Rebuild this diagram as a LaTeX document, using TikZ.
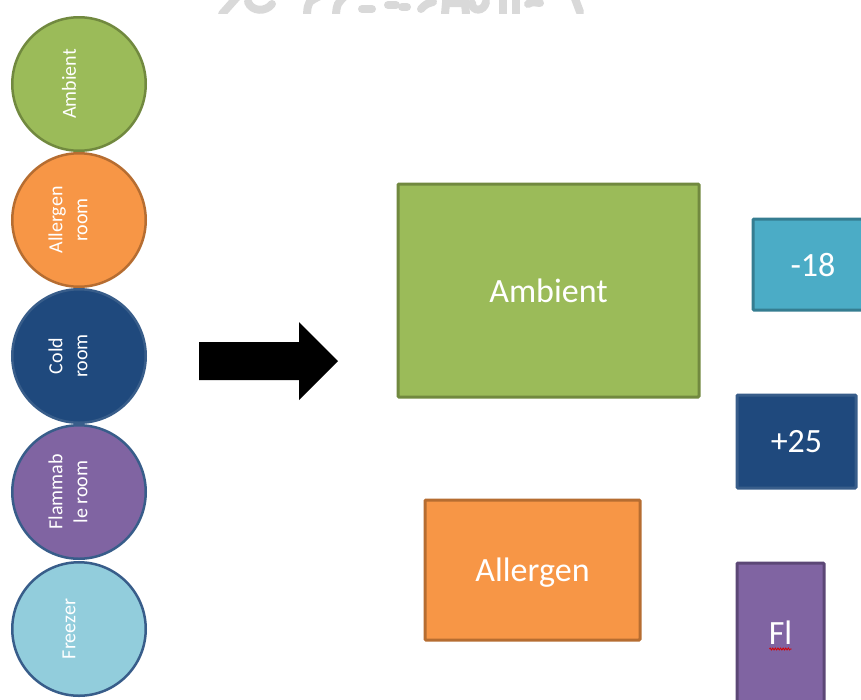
\documentclass[tikz,border=0pt]{standalone}
\usepackage{fontspec}
\setmainfont{Carlito}
\usetikzlibrary{decorations.pathmorphing}

\definecolor{greenfill}{HTML}{9BBB59}
\definecolor{greenline}{HTML}{71893F}
\definecolor{orangefill}{HTML}{F79646}
\definecolor{orangeline}{HTML}{B66D31}
\definecolor{navyfill}{HTML}{1F497D}
\definecolor{navyline}{HTML}{385D8A}
\definecolor{purplefill}{HTML}{8064A2}
\definecolor{purpleline}{HTML}{5C4776}
\definecolor{icefill}{HTML}{92CDDC}
\definecolor{tealfill}{HTML}{4BACC6}
\definecolor{tealline}{HTML}{357D91}
\definecolor{markgray}{HTML}{D9D9D9}

\tikzset{
  room/.style={circle, draw, line width=2.5pt, minimum size=133.5pt, inner sep=0pt},
  roomtext/.style={rotate=90, text=white, align=center, inner sep=0pt,
    font=\fontsize{20}{25}\selectfont},
  zone/.style={rectangle, draw, line width=3pt, rounded corners=1pt, inner sep=0pt,
    text=white, text depth=0pt, font=\fontsize{34}{40}\selectfont},
  markstroke/.style={draw=markgray, line width=8pt, line cap=round}
}

\begin{document}
\begin{tikzpicture}[x=1pt,y=-1pt]
\useasboundingbox (0,0) rectangle (861,699);
\clip (0,0) rectangle (861,699);

% faint lettering along the top edge
\begin{scope}
  \clip (200,0) rectangle (600,13);
  \path[markstroke] (222,14) -- (238,-4);
  \path[markstroke] (248,2) .. controls (252,12) and (266,12) .. (272,4);
  \path[markstroke] (320,-4) .. controls (308,2) .. (307,14);
  \path[markstroke] (345,-4) .. controls (337,4) .. (336,14);
  \path[markstroke] (362,9) -- (372,9);
  \path[markstroke] (388,5) -- (396,5);
  \path[markstroke] (402,7) -- (407,7);
  \path[markstroke] (433,2) .. controls (426,4) .. (421,9);
  \path[markstroke] (445,14) -- (446,3) -- (465,3) -- (466,14);
  \path[markstroke] (472,3) .. controls (472,12) and (484,12) .. (486,2);
  \path[markstroke] (503,-2) -- (503,14);
  \path[markstroke] (516,-2) -- (516,14);
  \path[markstroke] (528,4) .. controls (532,2) .. (540,3);
  \path[markstroke] (574,-4) -- (580,12);
\end{scope}

% storage rooms
\node[room, fill=greenfill, draw=greenline]   (amb)   at (79,84)  {};
\node[room, fill=orangefill, draw=orangeline] (alg)   at (79,220) {};
\node[room, fill=navyfill, draw=navyline]     (cold)  at (79,356) {};
\node[room, fill=purplefill, draw=navyline]   (flam)  at (79,492) {};
\node[room, fill=icefill, draw=navyline]      (frz)   at (79,629) {};

\node[roomtext] (ambt)  at ([xshift=-10pt]amb.center)  {Ambient};
\node[roomtext] (algt)  at ([xshift=-11pt]alg.center)  {Allergen\\room};
\node[roomtext] (coldt) at ([xshift=-11pt]cold.center) {Cold\\room};
\node[roomtext] (flamt) at ([xshift=-11pt]flam.center) {Flammab\\le room};
\node[roomtext] (frzt)  at ([xshift=-10pt]frz.center)  {Freezer};

% block arrow
\fill[black] (199,342) -- (299,342) -- (299,322) -- (338,361)
  -- (299,400) -- (299,380) -- (199,380) -- cycle;

% zones
\node[zone, fill=greenfill, draw=greenline, minimum width=301pt, minimum height=213pt]
  (zamb) at (548.5,290.5) {Ambient};
\node[zone, fill=orangefill, draw=orangeline, minimum width=215pt, minimum height=140pt]
  (zalg) at (532.5,570) {Allergen};
\node[zone, fill=tealfill, draw=tealline, minimum width=120pt, minimum height=91pt]
  (zfrz) at (813,264.5) {-18};
\node[zone, fill=navyfill, draw=navyline, minimum width=119pt, minimum height=93pt]
  (zcold) at (796.5,441.5) {+25};
\node[zone, fill=purplefill, draw=purpleline, minimum width=87pt, minimum height=140pt]
  (zflam) at (780.5,633) {Fl};

% spelling mark under the short label
\draw[red!85!black, line width=0.8pt, decorate,
  decoration={zigzag, amplitude=1pt, segment length=2.6pt}]
  ([xshift=-11pt,yshift=-16pt]zflam.center) -- ([xshift=11pt,yshift=-16pt]zflam.center);
\end{tikzpicture}
\end{document}
